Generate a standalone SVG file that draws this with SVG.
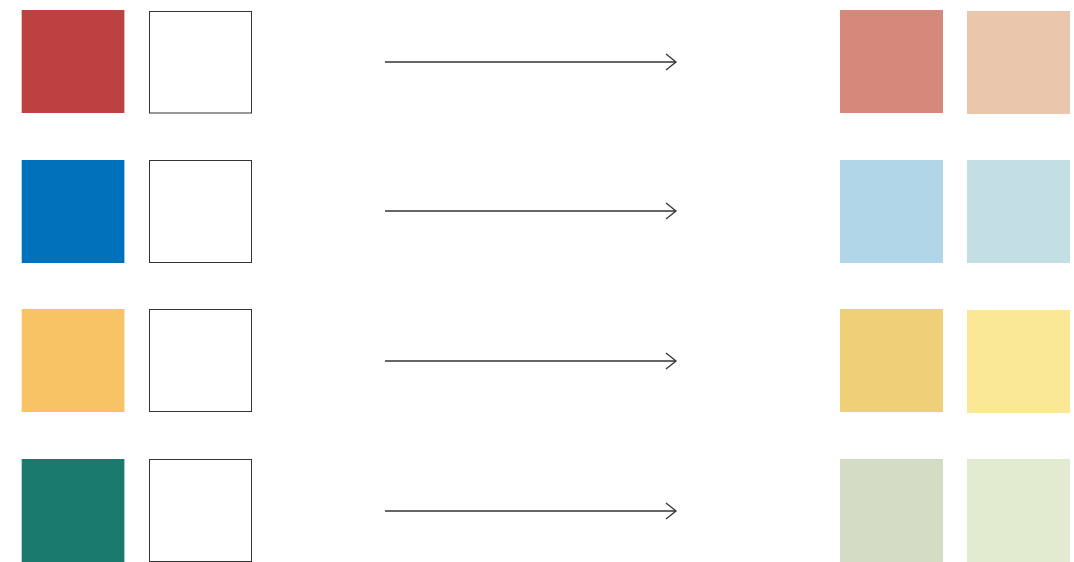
<svg xmlns="http://www.w3.org/2000/svg" width="1074" height="562" viewBox="0 0 1074 562">
<style>
.empty{fill:#fff;stroke:#333;stroke-width:1}
.conn{stroke:#333;stroke-width:1.3;fill:none}
</style>
<defs>
<marker id="arr" markerWidth="14" markerHeight="20" refX="11" refY="10" orient="auto" markerUnits="userSpaceOnUse">
<path d="M1,2 L11,10 L1,18" fill="none" stroke="#333" stroke-width="1.3"/>
</marker>
</defs>
<rect width="1074" height="562" fill="#fff"/>
<g id="row1">
<rect x="21.7" y="10" width="102.7" height="103" fill="#BE4142"/>
<rect class="empty" x="149.5" y="11.5" width="102" height="101.5"/>
<rect x="840" y="10" width="103" height="103" fill="#D6887A"/>
<rect x="967" y="11" width="103" height="103" fill="#EAC6AD"/>
</g>
<g id="row2">
<rect x="21.7" y="160" width="102.7" height="103" fill="#0072BB"/>
<rect class="empty" x="149.5" y="160.5" width="102" height="102"/>
<rect x="840" y="160" width="103" height="103" fill="#B0D6E7"/>
<rect x="967" y="160" width="103" height="103" fill="#C4DFE3"/>
</g>
<g id="row3">
<rect x="21.7" y="309" width="102.7" height="103" fill="#F8C364"/>
<rect class="empty" x="149.5" y="309.5" width="102" height="102"/>
<rect x="840" y="309" width="103" height="103" fill="#F0CF79"/>
<rect x="967" y="310" width="103" height="103" fill="#FAE896"/>
</g>
<g id="row4">
<rect x="21.7" y="459" width="102.7" height="103" fill="#1A7A6E"/>
<rect class="empty" x="149.5" y="459.5" width="102" height="102"/>
<rect x="840" y="459" width="103" height="103" fill="#D4DCC5"/>
<rect x="967" y="459" width="103" height="103" fill="#E2EBD0"/>
</g>
<g id="connectors">
<line class="conn" x1="385" y1="62" x2="676" y2="62" marker-end="url(#arr)"/>
<line class="conn" x1="385" y1="211" x2="676" y2="211" marker-end="url(#arr)"/>
<line class="conn" x1="385" y1="361" x2="676" y2="361" marker-end="url(#arr)"/>
<line class="conn" x1="385" y1="511" x2="676" y2="511" marker-end="url(#arr)"/>
</g>
</svg>
